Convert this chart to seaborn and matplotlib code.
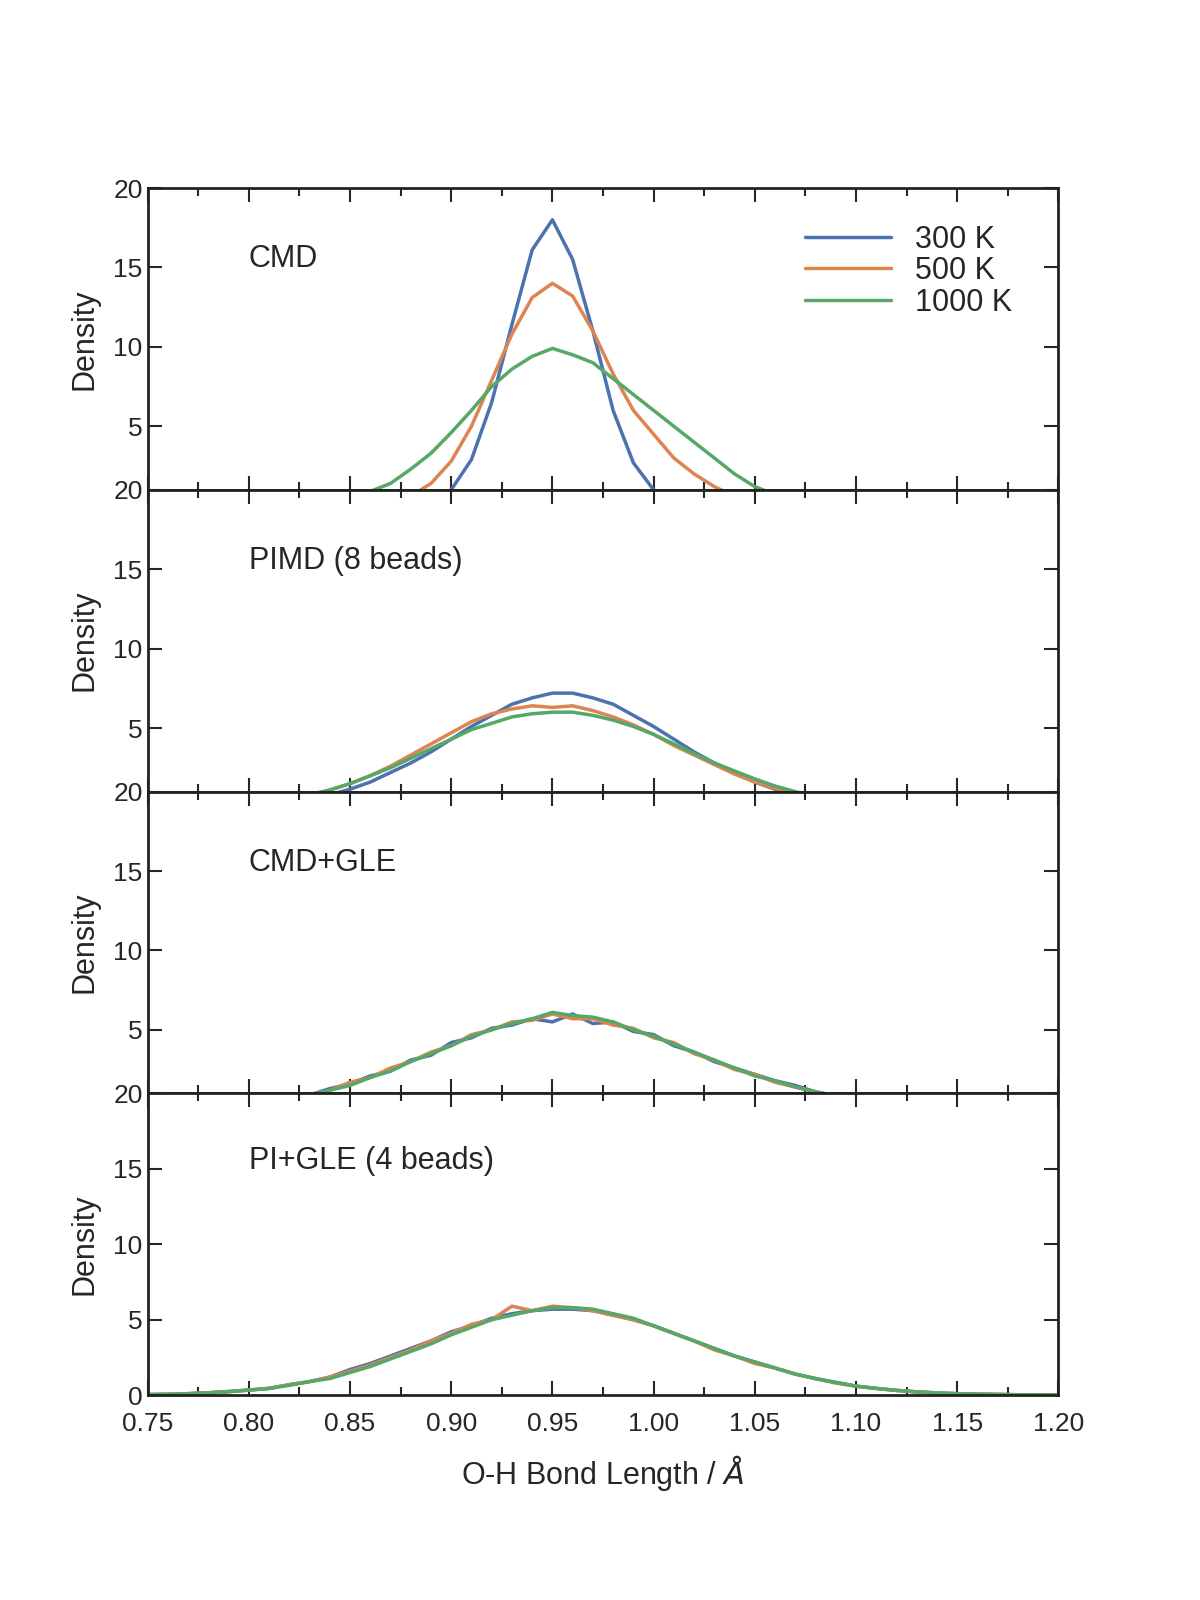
import numpy as np
import pandas as pd
import seaborn as sns
import matplotlib
matplotlib.use("Agg")
import matplotlib.pyplot as plt
from matplotlib.ticker import MultipleLocator

bond_length = [round(0.75 + 0.01 * i, 2) for i in range(46)]
temperatures = ["300 K", "500 K", "1000 K"]
panel_titles = ["CMD", "PIMD (8 beads)", "CMD+GLE", "PI+GLE (4 beads)"]

cmd_300 = [0]*14 + [0.3, 1.0, 2.9, 6.5, 11.4, 16.1, 18.0, 15.5, 11.0, 6.0, 2.7, 1.0, 0.3] + [0]*19
cmd_500 = [0]*12 + [0.2, 0.6, 1.4, 2.8, 5.0, 7.9, 10.8, 13.1, 14.0, 13.2, 11.0, 8.3, 6.0, 4.5, 3.0, 2.0, 1.2, 0.6, 0.3] + [0]*15
cmd_1000 = [0]*8 + [0.1, 0.3, 0.5, 0.9, 1.4, 2.3, 3.3, 4.6, 6.0, 7.5, 8.6, 9.4, 9.9, 9.5, 9.0, 8.0, 7.0, 6.0, 5.0, 4.0, 3.0, 2.0, 1.2, 0.7, 0.4, 0.2] + [0]*12

pimd_300 = [0]*5 + [0.1, 0.2, 0.35, 0.55, 0.8, 1.15, 1.6, 2.2, 2.8, 3.5, 4.3, 5.1, 5.8, 6.5, 6.9, 7.2, 7.2, 6.9, 6.5, 5.8, 5.1, 4.3, 3.5, 2.8, 2.2, 1.6, 1.15, 0.8, 0.55, 0.35, 0.2, 0.1] + [0]*9
pimd_500 = [0]*4 + [0.1, 0.2, 0.35, 0.55, 0.8, 1.1, 1.5, 2.0, 2.6, 3.3, 4.0, 4.7, 5.4, 5.9, 6.2, 6.4, 6.3, 6.4, 6.1, 5.7, 5.2, 4.6, 3.9, 3.3, 2.7, 2.1, 1.6, 1.2, 0.85, 0.6, 0.4, 0.25, 0.15, 0.1] + [0]*8
pimd_1000 = [0]*4 + [0.1, 0.2, 0.35, 0.55, 0.8, 1.1, 1.5, 2.0, 2.5, 3.1, 3.7, 4.3, 4.9, 5.3, 5.7, 5.9, 6.0, 6.0, 5.8, 5.5, 5.1, 4.6, 4.0, 3.4, 2.8, 2.3, 1.8, 1.35, 1.0, 0.7, 0.5, 0.3, 0.2, 0.1] + [0]*8

cmdgle_300 = [0.04, 0.06, 0.1, 0.16, 0.23, 0.34, 0.45, 0.7, 0.9, 1.3, 1.6, 2.1, 2.4, 3.1, 3.4, 4.2, 4.5, 5.1, 5.3, 5.7, 5.5, 6.0, 5.4, 5.5, 4.9, 4.7, 4.0, 3.6, 3.0, 2.6, 2.2, 1.8, 1.5, 1.1, 0.85, 0.6, 0.45, 0.32, 0.22, 0.15, 0.1, 0.07, 0.05, 0.03, 0.02, 0.01]
cmdgle_500 = [0.04, 0.06, 0.1, 0.16, 0.23, 0.34, 0.45, 0.7, 0.9, 1.2, 1.7, 2.0, 2.6, 3.0, 3.6, 4.0, 4.7, 5.0, 5.5, 5.6, 6.0, 5.7, 5.7, 5.3, 5.1, 4.5, 4.2, 3.5, 3.1, 2.5, 2.2, 1.7, 1.4, 1.1, 0.8, 0.6, 0.45, 0.32, 0.22, 0.15, 0.1, 0.07, 0.05, 0.03, 0.02, 0.01]
cmdgle_1000 = [0.04, 0.06, 0.1, 0.16, 0.23, 0.34, 0.45, 0.7, 0.9, 1.2, 1.5, 2.0, 2.4, 3.0, 3.5, 4.0, 4.6, 5.0, 5.4, 5.7, 6.1, 5.9, 5.8, 5.5, 5.0, 4.6, 4.1, 3.6, 3.1, 2.6, 2.1, 1.8, 1.4, 1.1, 0.85, 0.6, 0.45, 0.32, 0.22, 0.15, 0.1, 0.07, 0.05, 0.03, 0.02, 0.01]

pigle_300 = [0.04, 0.06, 0.1, 0.16, 0.25, 0.34, 0.45, 0.7, 0.9, 1.2, 1.7, 2.1, 2.6, 3.1, 3.6, 4.2, 4.6, 5.1, 5.4, 5.6, 5.7, 5.7, 5.6, 5.3, 5.0, 4.6, 4.1, 3.6, 3.1, 2.6, 2.2, 1.8, 1.4, 1.1, 0.85, 0.6, 0.45, 0.32, 0.22, 0.15, 0.1, 0.07, 0.05, 0.03, 0.02, 0.01]
pigle_500 = [0.04, 0.06, 0.1, 0.16, 0.23, 0.34, 0.45, 0.7, 0.9, 1.2, 1.6, 2.0, 2.5, 3.0, 3.6, 4.1, 4.7, 5.0, 5.9, 5.6, 5.9, 5.8, 5.6, 5.3, 5.0, 4.6, 4.1, 3.6, 3.0, 2.6, 2.1, 1.8, 1.4, 1.1, 0.8, 0.6, 0.45, 0.32, 0.22, 0.15, 0.1, 0.07, 0.05, 0.03, 0.02, 0.01]
pigle_1000 = [0.04, 0.06, 0.1, 0.16, 0.23, 0.34, 0.45, 0.65, 0.9, 1.1, 1.5, 1.9, 2.4, 2.9, 3.4, 4.0, 4.5, 5.0, 5.3, 5.6, 5.8, 5.8, 5.7, 5.4, 5.1, 4.6, 4.1, 3.6, 3.1, 2.6, 2.2, 1.8, 1.4, 1.1, 0.85, 0.6, 0.45, 0.32, 0.22, 0.15, 0.1, 0.07, 0.05, 0.03, 0.02, 0.01]

panels = [
    [cmd_300, cmd_500, cmd_1000],
    [pimd_300, pimd_500, pimd_1000],
    [cmdgle_300, cmdgle_500, cmdgle_1000],
    [pigle_300, pigle_500, pigle_1000],
]

sns.set_theme(style="ticks")
plt.rcParams["font.family"] = ["Liberation Sans", "DejaVu Sans"]
colors = ["#4c72b0", "#dd8452", "#55a868"]

fig = plt.figure(figsize=(12, 16), dpi=100)
left, right, top, bottom = 0.123, 0.882, 0.8825, 0.128
h = (top - bottom) / 4
axes = []
for i in range(4):
    ax = fig.add_axes([left, top - (i + 1) * h, right - left, h], zorder=i)
    axes.append(ax)
    rows = []
    for t, vals in zip(temperatures, panels[i]):
        for x, v in zip(bond_length, vals):
            rows.append((x, v, t))
    df = pd.DataFrame(rows, columns=["x", "y", "T"])
    sns.lineplot(data=df, x="x", y="y", hue="T", palette=colors, ax=ax,
                 linewidth=2.5, legend=(i == 0))
    ax.set_xlim(0.75, 1.20)
    ax.xaxis.set_major_locator(MultipleLocator(0.05))
    ax.xaxis.set_minor_locator(MultipleLocator(0.025))
    if i < 3:
        ax.set_ylim(1, 20)
        ax.set_yticks([5, 10, 15, 20])
        ax.set_xticklabels([])
        ax.set_xlabel("")
    else:
        ax.set_ylim(0, 20)
        ax.set_yticks([0, 5, 10, 15, 20])
        ax.set_xticks([0.75, 0.80, 0.85, 0.90, 0.95, 1.00, 1.05, 1.10, 1.15, 1.20])
        ax.set_xticklabels(["0.75", "0.80", "0.85", "0.90", "0.95", "1.00", "1.05", "1.10", "1.15", "1.20"])
        ax.set_xlabel("O-H Bond Length / $\\AA$", fontsize=22, labelpad=12)
    ax.tick_params(which="both", direction="in", top=True, right=True, labelsize=19)
    ax.tick_params(axis="x", which="major", pad=12)
    ax.tick_params(which="major", length=10, width=1.5)
    ax.tick_params(which="minor", length=6, width=1.5)
    for s in ax.spines.values():
        s.set_linewidth(2)
        s.set_color("#222222")
    ax.set_ylabel("Density", fontsize=22, labelpad=10)
    ax.text(0.80, 15.5, panel_titles[i], fontsize=22, va="center")

leg = axes[0].legend(frameon=False, fontsize=22, loc="upper right",
                     handlelength=2.8, labelspacing=0.05, bbox_to_anchor=(0.98, 0.97))
fig.savefig("out.png", dpi=100)
